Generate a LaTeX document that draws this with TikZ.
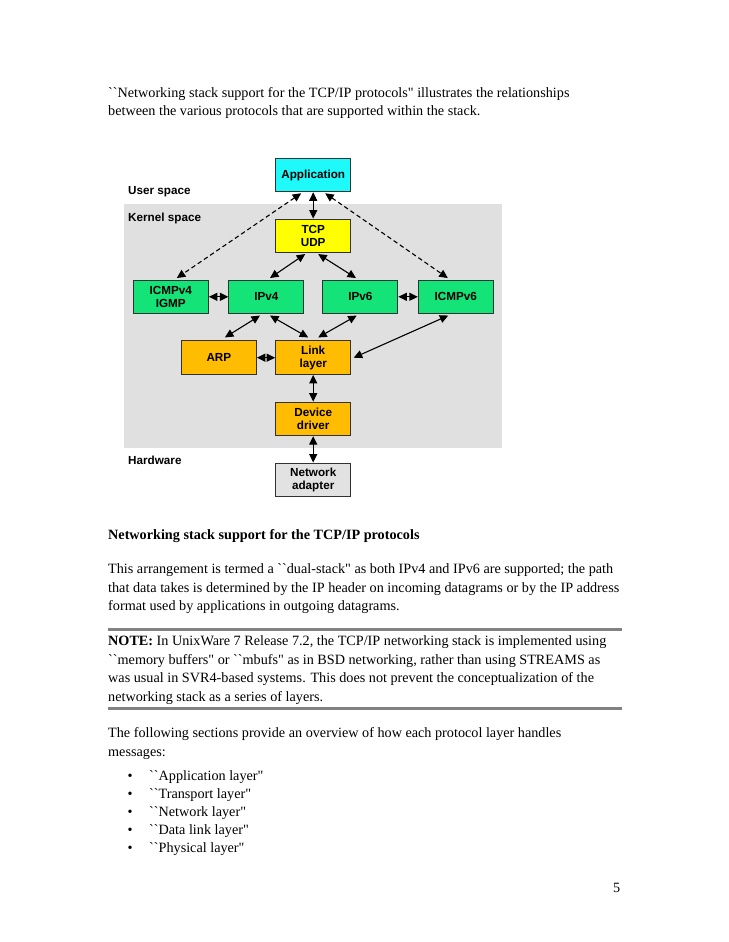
\documentclass[tikz,border=0pt]{standalone}
\usepackage{fontspec}
\setmainfont{Liberation Serif}
\newfontfamily\diagfont{Liberation Sans}
\usetikzlibrary{arrows.meta}
\definecolor{appcyan}{RGB}{30,250,250}
\definecolor{tcpyellow}{RGB}{255,255,0}
\definecolor{ipgreen}{RGB}{20,228,120}
\definecolor{linkorange}{RGB}{255,188,0}
\definecolor{kernelgray}{RGB}{224,224,224}
\definecolor{nicgray}{RGB}{226,226,226}
\definecolor{boxline}{RGB}{50,50,50}
\definecolor{rulegray}{RGB}{130,130,130}
\newcommand\myoq{\textasciigrave\textasciigrave}
\newcommand\mycq{\textquotedbl}
\begin{document}
\begin{tikzpicture}[x=1pt,y=-1pt,
  bodytext/.style={anchor=base west,inner sep=0pt,font=\fontsize{14.2}{18.5}\selectfont},
  layerlabel/.style={anchor=base west,inner sep=0pt,font=\diagfont\bfseries\fontsize{11.7}{13.3}\selectfont},
  protobox/.style={draw=boxline,line width=1pt,minimum width=75pt,minimum height=33.5pt,inner sep=0pt,
    align=center,font=\diagfont\bfseries\fontsize{11.7}{13.3}\selectfont},
  biarrow/.style={line width=1.1pt,{Triangle[length=8.5pt,width=8pt]}-{Triangle[length=8.5pt,width=8pt]}},
  dasharrow/.style={biarrow,dash pattern=on 4.5pt off 3pt}
]
\useasboundingbox (0,0) rectangle (728,942);
\fill[white] (0,0) rectangle (728,942);

% intro text
\node[bodytext] (intro1) at (108,97) {\myoq Networking stack support for the TCP/IP protocols\mycq{} illustrates the relationships};
\node[bodytext] (intro2) at (108,115.5) {between the various protocols that are supported within the stack.};

% diagram background
\fill[kernelgray] (124,204) rectangle (502,447.5);
\node[layerlabel] (user) at (128,194.5) {User space};
\node[layerlabel] (kernel) at (128,221) {Kernel space};
\node[layerlabel] (hw) at (128,464) {Hardware};

% boxes
\node[protobox,fill=appcyan] (app) at (313.2,175) {Application};
\node[protobox,fill=tcpyellow] (tcp) at (313.2,235.8) {TCP\\UDP};
\node[protobox,fill=ipgreen] (icmp4) at (170.8,296.8) {ICMPv4\\IGMP};
\node[protobox,fill=ipgreen] (ipv4) at (266.4,296.8) {IPv4};
\node[protobox,fill=ipgreen] (ipv6) at (360.3,296.8) {IPv6};
\node[protobox,fill=ipgreen] (icmp6) at (455.8,296.8) {ICMPv6};
\node[protobox,fill=linkorange] (arp) at (218.9,357.7) {ARP};
\node[protobox,fill=linkorange] (link) at (313.2,357.7) {Link\\layer};
\node[protobox,fill=linkorange] (dev) at (313.2,418.9) {Device\\driver};
\node[protobox,fill=nicgray] (nic) at (313.2,479.8) {Network\\adapter};

% connectors
\draw[dasharrow] ([xshift=-12pt,yshift=-1pt]app.south) -- ([xshift=6pt,yshift=1.5pt]icmp4.north);
\draw[dasharrow] ([xshift=12pt,yshift=-1pt]app.south) -- ([xshift=-8pt,yshift=1.5pt]icmp6.north);
\draw[biarrow] (app.south) -- (tcp.north);
\draw[biarrow] ([xshift=-8pt,yshift=-1pt]tcp.south) -- ([xshift=3.6pt,yshift=1.5pt]ipv4.north);
\draw[biarrow] ([xshift=5pt,yshift=-1pt]tcp.south) -- ([xshift=-4.3pt,yshift=1.5pt]ipv6.north);
\draw[biarrow] (icmp4.east) -- (ipv4.west);
\draw[biarrow] (ipv6.east) -- (icmp6.west);
\draw[biarrow] ([xshift=-6.4pt,yshift=-1.5pt]ipv4.south) -- ([xshift=6pt,yshift=3pt]arp.north);
\draw[biarrow] ([xshift=3.6pt,yshift=-1.5pt]ipv4.south) -- ([xshift=-5pt,yshift=3pt]link.north);
\draw[biarrow] ([xshift=-3.6pt,yshift=-1.5pt]ipv6.south) -- ([xshift=5pt,yshift=3pt]link.north);
\draw[biarrow] ([xshift=-7.5pt,yshift=-1.5pt]icmp6.south) -- ([xshift=2.5pt]link.east);
\draw[biarrow] (arp.east) -- (link.west);
\draw[biarrow] (link.south) -- (dev.north);
\draw[biarrow] (dev.south) -- (nic.north);

% caption and paragraphs
\node[bodytext,font=\fontsize{14.2}{18.5}\selectfont\bfseries] (cap) at (108,539.5) {Networking stack support for the TCP/IP protocols};
\node[bodytext] (p1) at (108,573.5) {This arrangement is termed a \myoq dual-stack\mycq{} as both IPv4 and IPv6 are supported; the path};
\node[bodytext] (p2) at (108,592) {that data takes is determined by the IP header on incoming datagrams or by the IP address};
\node[bodytext] (p3) at (108,610.5) {format used by applications in outgoing datagrams.};

\coordinate (r1a) at (108,629.5);
\coordinate (r1b) at (622,629.5);
\draw[rulegray,line width=2.2pt] (r1a) -- (r1b);
\node[bodytext] (n1) at (108,645.5) {\textbf{NOTE:} In UnixWare 7 Release 7.2, the TCP/IP networking stack is implemented using};
\node[bodytext] (n2) at (108,664) {\myoq memory buffers\mycq{} or \myoq mbufs\mycq{} as in BSD networking, rather than using STREAMS as};
\node[bodytext] (n3) at (108,682.5) {was usual in SVR4-based systems. This does not prevent the conceptualization of the};
\node[bodytext] (n4) at (108,701) {networking stack as a series of layers.};
\coordinate (r2a) at (108,708.5);
\coordinate (r2b) at (622,708.5);
\draw[rulegray,line width=2.2pt] (r2a) -- (r2b);

\node[bodytext] (f1) at (108,737.5) {The following sections provide an overview of how each protocol layer handles};
\node[bodytext] (f2) at (108,756) {messages:};

\foreach \y/\t [count=\i] in {780/Application layer,798.5/Transport layer,816.5/Network layer,834.5/Data link layer,852.5/Physical layer}{
  \node[bodytext] (bul\i) at (127.5,\y) {\textbullet};
  \node[bodytext] (item\i) at (149,\y) {\myoq\t\mycq};
}

\node[anchor=base east,inner sep=0pt,font=\fontsize{14.2}{18.5}\selectfont] (pgnum) at (620.5,892) {5};
\end{tikzpicture}
\end{document}
